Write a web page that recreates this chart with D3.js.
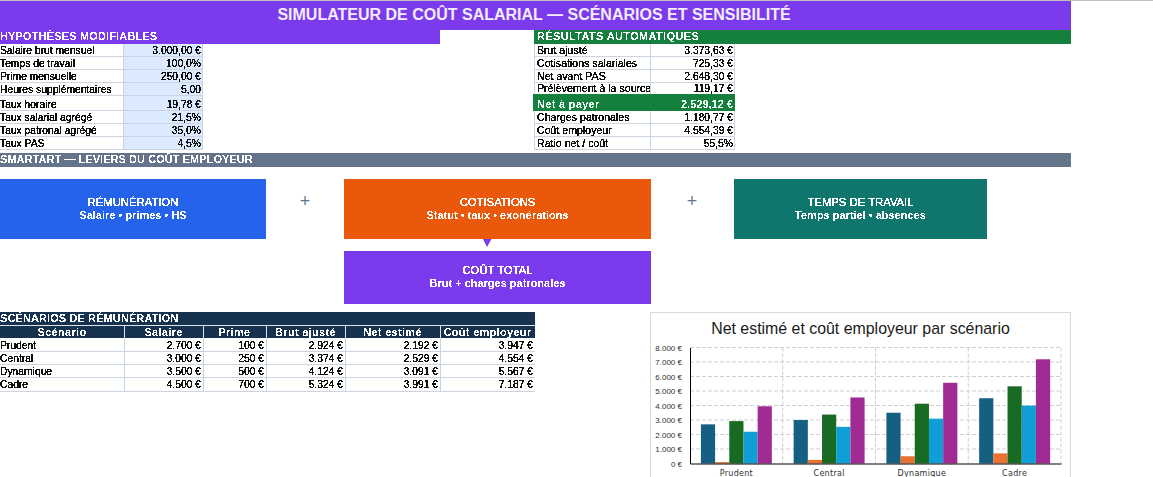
<!DOCTYPE html>
<html><head><meta charset="utf-8">
<script src="https://cdn.jsdelivr.net/npm/d3@7"></script>
<style>
html,body{margin:0;padding:0;background:#fff;overflow:hidden}
svg{display:block}
text{font-family:"Liberation Sans",Arial,sans-serif}
</style></head><body>
<div id="root"></div>
<script>
// ---- data ----
const pageTitle = "SIMULATEUR DE COÛT SALARIAL — SCÉNARIOS ET SENSIBILITÉ";
const hypoLabels = ["Salaire brut mensuel","Temps de travail","Prime mensuelle","Heures supplémentaires","Taux horaire","Taux salarial agrégé","Taux patronal agrégé","Taux PAS"];
const hypoValues = ["3.000,00 €","100,0%","250,00 €","5,00","19,78 €","21,5%","35,0%","4,5%"];
const resLabels = ["Brut ajusté","Cotisations salariales","Net avant PAS","Prélèvement à la source","Net à payer","Charges patronales","Coût employeur","Ratio net / coût"];
const resValues = ["3.373,63 €","725,33 €","2.648,30 €","119,17 €","2.529,12 €","1.180,77 €","4.554,39 €","55,5%"];
const scenarioHeaders = ["Scénario","Salaire","Prime","Brut ajusté","Net estimé","Coût employeur"];
const scenarios = ["Prudent","Central","Dynamique","Cadre"];
const salaire = [2700,3000,3500,4500];
const prime = [100,250,500,700];
const brut = [2924,3374,4124,5324];
const net = [2192,2529,3091,3991];
const cout = [3947,4554,5567,7187];
const seriesNames = ["Salaire","Prime","Brut ajusté","Net estimé","Coût employeur"];
const seriesValues = [salaire,prime,brut,net,cout];
const seriesColors = ["#156082","#E97132","#196B24","#0F9ED5","#A02B93"];
const yTicks = [0,1000,2000,3000,4000,5000,6000,7000,8000];
const cards = [
 ["RÉMUNÉRATION","Salaire • primes • HS"],
 ["COTISATIONS","Statut • taux • exonérations"],
 ["TEMPS DE TRAVAIL","Temps partiel • absences"],
 ["COÛT TOTAL","Brut + charges patronales"]];

// ---- layout ----
const W=1153,H=477;
const svg=d3.select("#root").append("svg").attr("width",W).attr("height",H).attr("viewBox",[0,0,W,H]);
const defs=svg.append("defs");
const mkFilter=(id,table)=>{
  const f=defs.append("filter").attr("id",id).attr("x","-5%").attr("y","-20%").attr("width","110%").attr("height","140%")
    .attr("color-interpolation-filters","sRGB");
  f.append("feComponentTransfer").append("feFuncA").attr("type","discrete").attr("tableValues",table);
};
mkFilter("px","0 1 1 1");
mkFilter("pxb","0 0 1 1");
const PURPLE="#7C3AED",GREEN="#15803D",SLATE="#64748B",NAVY="#16324F",GRID="#CBD5E1";
const rect=(x,y,w,h,f)=>svg.append("rect").attr("x",x).attr("y",y).attr("width",w).attr("height",h).attr("fill",f).attr("shape-rendering","crispEdges");
const line=(x1,y1,x2,y2,c)=>svg.append("line").attr("x1",x1).attr("y1",y1).attr("x2",x2).attr("y2",y2).attr("stroke",c).attr("stroke-width",1).attr("shape-rendering","crispEdges");
const txt=(s,x,y,o={})=>svg.append("text").text(s).attr("x",x).attr("y",y)
  .attr("text-anchor",o.a||"start").attr("font-size",o.s||10.3).attr("font-weight",o.b?"bold":"normal")
  .attr("fill",o.c||"#111").attr("letter-spacing",o.ls||0)
  .attr("filter",o.smooth?null:(o.b?"url(#pxb)":"url(#px)"));

// banners
rect(0,0,W,1,"#BFBFBF");
rect(0,1,1071,29,PURPLE);
rect(0,30,440,14,PURPLE);
rect(534,30,537,14,GREEN);
rect(0,153,1071,14,SLATE);
rect(0,312,535,13,NAVY);
txt(pageTitle,534,20,{a:"middle",s:16,b:1,c:"#F3EDFF",smooth:1});
txt("HYPOTHÈSES MODIFIABLES",0,40,{s:11,b:1,c:"#fff",ls:.15});
txt("RÉSULTATS AUTOMATIQUES",537,40,{s:11,b:1,c:"#fff",ls:.35});
txt("SMARTART — LEVIERS DU COÛT EMPLOYEUR",0,163,{s:11,b:1,c:"#fff",ls:.05});
txt("SCÉNARIOS DE RÉMUNÉRATION",0,322,{s:11,b:1,c:"#fff",ls:.1});

// left table
const hypoY=[44,56,69,82,95,110,123,136,149];
rect(123,44,80,105,"#DBEAFE");
hypoLabels.forEach((l,i)=>{
  txt(l,0,hypoY[i+1]-2);
  txt(hypoValues[i],201,hypoY[i+1]-2,{a:"end"});
});
hypoY.slice(1).forEach(y=>line(0,y+.5,203,y+.5,GRID));
line(123.5,44,123.5,150,GRID);line(202.5,44,202.5,150,GRID);

// right table
const resY=[44,56,69,82,94,111,123,136,149];
resLabels.forEach((l,i)=>{
  const hi=i===4;
  if(hi) rect(533,resY[i],202,resY[i+1]-resY[i],GREEN);
  txt(l,537,resY[i+1]-(hi?3:2),{b:hi,s:hi?11:10.6,c:hi?"#ECFDF5":"#111",ls:hi?.3:0});
  txt(resValues[i],733,resY[i+1]-(hi?3:2),{a:"end",b:hi,s:hi?11:10.3,c:hi?"#ECFDF5":"#111"});
});
[56,69,82,123,136,149].forEach(y=>line(534,y+.5,735,y+.5,GRID));
[[534.5,44,94],[650.5,44,94],[734.5,44,94],[534.5,111,150],[650.5,111,150],[734.5,111,150]].forEach(d=>line(d[0],d[1],d[0],d[2],GRID));

// smartart
const cardBoxes=[[0,179,266,60,"#2563EB"],[344,179,307,60,"#EA580C"],[734,179,253,60,"#0F766E"],[344,251,307,53,PURPLE]];
cards.forEach((c,i)=>{
  const b=cardBoxes[i];
  rect(b[0],b[1],b[2],b[3],b[4]);
  const cx=b[0]+b[2]/2, y0=i===3?274:206;
  txt(c[0],cx,y0,{a:"middle",c:"#fff",s:11.3});
  txt(c[1],cx,y0+13,{a:"middle",c:"#fff",s:11,b:1});
});
svg.append("path").attr("d",d3.line()([[483,239],[491.5,239],[487,247]])+"Z").attr("fill",PURPLE);
[305,692].forEach(x=>{txt("+",x,207,{a:"middle",s:18,c:SLATE,smooth:1});});

// scenario table
const colX=[0,124,203,266,345,440,535];
rect(0,325,535,13,NAVY);
line(0,325.5,535,325.5,"#DCE3EC");
scenarioHeaders.forEach((h,i)=>{
  txt(h,(colX[i]+colX[i+1])/2,336,{a:"middle",b:1,s:11,c:"#fff",ls:.3});
  if(i) line(colX[i]+.5,325,colX[i]+.5,338,"#DCE3EC");
});
const rowY=d3.scaleBand().domain(scenarios).range([338,390.5]);
scenarios.forEach((s,i)=>{
  const y=Math.round(rowY(s)+rowY.bandwidth()-2.2);
  txt(s,0,y);
  [salaire,prime,brut,net,cout].forEach((arr,j)=>{
    txt(d3.format(",")(arr[i]).replace(/,/g,".")+" €",colX[j+2]-2,y,{a:"end"});
  });
  line(0,Math.round(rowY(s)+rowY.bandwidth())+.5,535,Math.round(rowY(s)+rowY.bandwidth())+.5,GRID);
});
colX.slice(1,6).forEach(x=>line(x+.5,338,x+.5,391,GRID));

// chart frame
svg.append("rect").attr("x",650.5).attr("y",312.5).attr("width",420).attr("height",180).attr("fill","#fff").attr("stroke","#D9D9D9");
txt("Net estimé et coût employeur par scénario",860.5,334,{a:"middle",s:15.9,c:"#1a1a1a",smooth:1});

const m={l:690,r:1061,t:347.5,b:463.5};
const x0=d3.scaleBand().domain(scenarios).range([m.l,m.r]).paddingInner(.235).paddingOuter(.1175);
const x1=d3.scaleBand().domain(seriesNames).range([0,x0.bandwidth()]);
const y=d3.scaleLinear().domain([0,8000]).range([m.b,m.t]);
const step=(m.r-m.l)/scenarios.length;

const g=svg.append("g");
// grid
g.append("g").selectAll("line").data(yTicks.slice(1)).join("line")
  .attr("x1",m.l).attr("x2",m.r).attr("y1",d=>y(d)).attr("y2",d=>y(d))
  .attr("stroke","#CFCFCF").attr("stroke-dasharray","4 2");
g.append("g").selectAll("line").data(d3.range(1,scenarios.length+1)).join("line")
  .attr("x1",d=>m.l+d*step).attr("x2",d=>m.l+d*step).attr("y1",m.t).attr("y2",m.b)
  .attr("stroke","#CFCFCF").attr("stroke-dasharray","4 2");
// bars
g.append("g").selectAll("g").data(seriesNames).join("g").attr("fill",(d,i)=>seriesColors[i])
  .selectAll("rect").data((d,i)=>seriesValues[i].map((v,k)=>({s:d,c:scenarios[k],v}))).join("rect")
  .attr("x",d=>x0(d.c)+x1(d.s)).attr("width",x1.bandwidth())
  .attr("y",d=>y(d.v)).attr("height",d=>y(0)-y(d.v));
// axes
const fmt=v=>d3.format(",")(v).replace(/,/g,".")+" €";
const ya=g.append("g").attr("transform",`translate(${m.l},0)`).call(d3.axisLeft(y).tickValues(yTicks).tickFormat(fmt).tickSize(0).tickPadding(8));
ya.select(".domain").attr("stroke","#000").attr("stroke-width",1);
ya.selectAll("text").attr("font-size",8).attr("fill","#303030").style("font-family","'Liberation Sans',Arial,sans-serif");
const xa=g.append("g").attr("transform",`translate(0,${m.b})`).call(d3.axisBottom(x0).tickSize(0).tickPadding(7));
xa.select(".domain").attr("stroke","#000").attr("stroke-width",1);
xa.selectAll("text").attr("font-size",8).attr("fill","#303030").attr("letter-spacing",.3).style("font-family","'DejaVu Sans',sans-serif");
</script></body></html>
